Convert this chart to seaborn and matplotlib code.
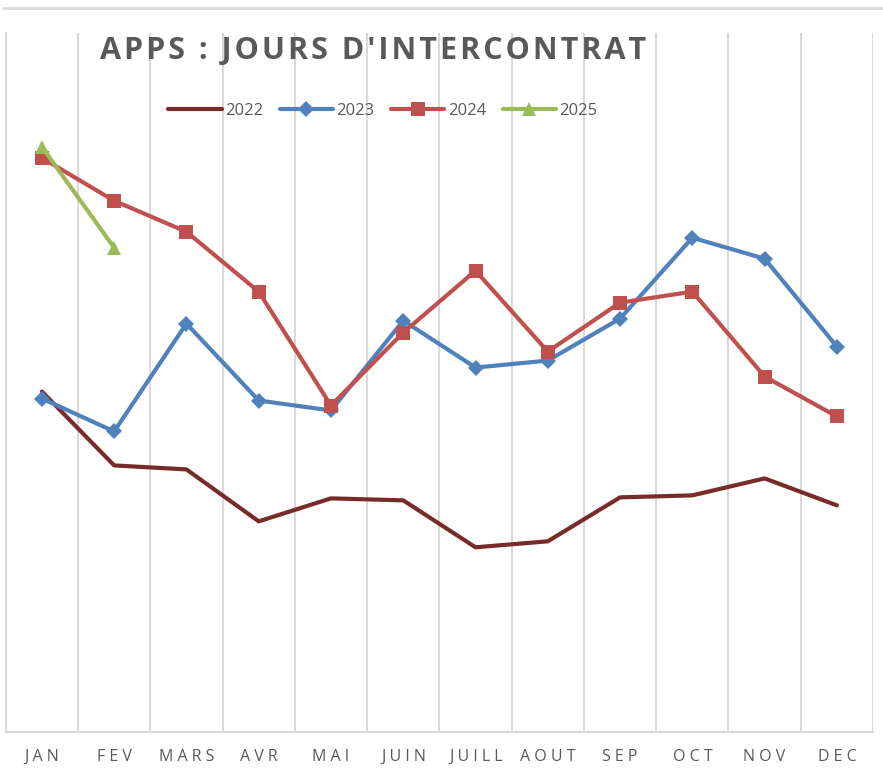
import numpy as np
import pandas as pd
import seaborn as sns
import matplotlib.pyplot as plt
from matplotlib.lines import Line2D

# Données (jours d'intercontrat, valeurs estimées)
mois = ['JAN', 'FEV', 'MARS', 'AVR', 'MAI', 'JUIN', 'JUILL', 'AOUT', 'SEP', 'OCT', 'NOV', 'DEC']
jours_2022 = [17.05, 13.35, 13.15, 10.55, 11.7, 11.6, 9.25, 9.55, 11.75, 11.85, 12.7, 11.35]
jours_2023 = [16.7, 15.05, 20.45, 16.6, 16.1, 20.6, 18.25, 18.6, 20.7, 24.75, 23.7, 19.3]
jours_2024 = [28.75, 26.6, 25.05, 22.05, 16.35, 20.0, 23.1, 19.05, 21.5, 22.05, 17.8, 15.8]
jours_2025 = [29.3, 24.25]
titre = "APPS : JOURS D'INTERCONTRAT"

gris = '#595959'
sns.set_style('white')
plt.rcParams['font.family'] = ['Open Sans', 'DejaVu Sans']

fig = plt.figure(figsize=(8.83, 7.81), dpi=100)
ax = fig.add_axes([0.0065, 0.0627, 0.9822, 0.895])

series = [
    ('2022', jours_2022, '#772C2A', None, 0),
    ('2023', jours_2023, '#4F81BD', 'D', 8),
    ('2024', jours_2024, '#C0504D', 's', 10),
    ('2025', jours_2025, '#9BBB59', '^', 10),
]
for annee, vals, couleur, mk, ms in series:
    df = pd.DataFrame({'x': np.arange(len(vals)), 'y': vals})
    sns.lineplot(data=df, x='x', y='y', ax=ax, color=couleur, linewidth=3,
                 marker=mk, markersize=ms, markeredgewidth=0, label=annee, sort=False)

ax.set_xlim(-0.5, 11.5)
ax.set_ylim(0, 35)
ax.set_xticks(range(12))
# lettres espacées comme dans l'original
ax.set_xticklabels([' '.join(m) for m in mois], fontsize=11.5, color=gris)
ax.set_xticks(np.arange(-0.5, 12, 1), minor=True)
ax.grid(True, which='minor', axis='x', color='#d9d9d9', linewidth=1.5)
ax.grid(False, which='major')
ax.tick_params(axis='x', which='both', length=0, pad=12)
ax.set_yticks([])
ax.set_xlabel('')
ax.set_ylabel('')
for s in ['top', 'right']:
    ax.spines[s].set_visible(False)
for s in ['left', 'bottom']:
    ax.spines[s].set_color('#d9d9d9')
    ax.spines[s].set_linewidth(1.5)

leg = ax.legend(loc='upper left', bbox_to_anchor=(0.17, 0.922), ncol=4, frameon=False,
                fontsize=12, handlelength=3.2, columnspacing=1.0, handletextpad=0.2)
for t in leg.get_texts():
    t.set_color(gris)

fig.text(100 / 883, 1 - 51 / 781, '\u200a'.join(titre), fontsize=22,
         fontweight='bold', color=gris, va='center', ha='left')

fig.add_artist(Line2D([0.003, 1], [1 - 8 / 781] * 2, color='#d9d9d9', linewidth=2))

fig.savefig('out.png', dpi=100)
